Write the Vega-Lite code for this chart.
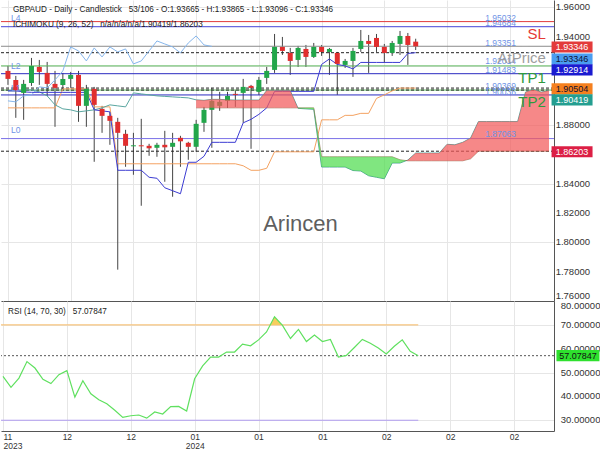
{
  "$schema": "https://vega.github.io/schema/vega-lite/v6.json",
  "padding": 0,
  "spacing": 0,
  "background": "white",
  "config": {
    "view": {"stroke": null},
    "font": "Liberation Sans",
    "axis": {"gridColor": "#e6e6e6", "domainColor": "#555555", "labelColor": "#333333", "labelFont": "Liberation Sans"}
  },
  "datasets": {
    "candles": [
      {"i":0,"o":1.91673,"h":1.92013,"l":1.90721,"c":1.91129},
      {"i":1,"o":1.91061,"h":1.91333,"l":1.88476,"c":1.90313},
      {"i":2,"o":1.90176,"h":1.91061,"l":1.88340,"c":1.90789},
      {"i":3,"o":1.90857,"h":1.92557,"l":1.90653,"c":1.92013},
      {"i":4,"o":1.91945,"h":1.92421,"l":1.90721,"c":1.91605},
      {"i":5,"o":1.91537,"h":1.92285,"l":1.89972,"c":1.90789},
      {"i":6,"o":1.90789,"h":1.91673,"l":1.87864,"c":1.90517},
      {"i":7,"o":1.90721,"h":1.91537,"l":1.90381,"c":1.91129},
      {"i":8,"o":1.91129,"h":1.91605,"l":1.90517,"c":1.91401},
      {"i":9,"o":1.91401,"h":1.91673,"l":1.88204,"c":1.89292},
      {"i":10,"o":1.89292,"h":1.90721,"l":1.87864,"c":1.90449},
      {"i":11,"o":1.90449,"h":1.90585,"l":1.85483,"c":1.89360},
      {"i":12,"o":1.89088,"h":1.89292,"l":1.87455,"c":1.88612},
      {"i":13,"o":1.88612,"h":1.88884,"l":1.86639,"c":1.88272},
      {"i":14,"o":1.88204,"h":1.88476,"l":1.78136,"c":1.87455},
      {"i":15,"o":1.87387,"h":1.87659,"l":1.85142,"c":1.86571},
      {"i":16,"o":1.86537,"h":1.87455,"l":1.84598,"c":1.86605},
      {"i":17,"o":1.86605,"h":1.88408,"l":1.82489,"c":1.86537},
      {"i":18,"o":1.86571,"h":1.86707,"l":1.85891,"c":1.86401},
      {"i":19,"o":1.86435,"h":1.86775,"l":1.85823,"c":1.86639},
      {"i":20,"o":1.86639,"h":1.87591,"l":1.84122,"c":1.86469},
      {"i":21,"o":1.86503,"h":1.87455,"l":1.83102,"c":1.86775},
      {"i":22,"o":1.87115,"h":1.87251,"l":1.85142,"c":1.86877},
      {"i":23,"o":1.86775,"h":1.86843,"l":1.85619,"c":1.86503},
      {"i":24,"o":1.86503,"h":1.88340,"l":1.86163,"c":1.88068},
      {"i":25,"o":1.88136,"h":1.89224,"l":1.87523,"c":1.89020},
      {"i":26,"o":1.89020,"h":1.90517,"l":1.86435,"c":1.89632},
      {"i":27,"o":1.89292,"h":1.90245,"l":1.88952,"c":1.89564},
      {"i":28,"o":1.89632,"h":1.90245,"l":1.89156,"c":1.89972},
      {"i":29,"o":1.90108,"h":1.90381,"l":1.89224,"c":1.90040},
      {"i":30,"o":1.90176,"h":1.91129,"l":1.88136,"c":1.90585},
      {"i":31,"o":1.90653,"h":1.90721,"l":1.86367,"c":1.90517},
      {"i":32,"o":1.90245,"h":1.91265,"l":1.90040,"c":1.91061},
      {"i":33,"o":1.91197,"h":1.91945,"l":1.90789,"c":1.91673},
      {"i":34,"o":1.91741,"h":1.94190,"l":1.91537,"c":1.93306},
      {"i":35,"o":1.93306,"h":1.93986,"l":1.92762,"c":1.93034},
      {"i":36,"o":1.92898,"h":1.93238,"l":1.91401,"c":1.92353},
      {"i":37,"o":1.92421,"h":1.93374,"l":1.91945,"c":1.93238},
      {"i":38,"o":1.93170,"h":1.93442,"l":1.91945,"c":1.92625},
      {"i":39,"o":1.92625,"h":1.93578,"l":1.92557,"c":1.93306},
      {"i":40,"o":1.93306,"h":1.93442,"l":1.92693,"c":1.92966},
      {"i":41,"o":1.92966,"h":1.93238,"l":1.91401,"c":1.93170},
      {"i":42,"o":1.92898,"h":1.92966,"l":1.90040,"c":1.92149},
      {"i":43,"o":1.92081,"h":1.92489,"l":1.91877,"c":1.92353},
      {"i":44,"o":1.92353,"h":1.93238,"l":1.91265,"c":1.93034},
      {"i":45,"o":1.93170,"h":1.94462,"l":1.92966,"c":1.93714},
      {"i":46,"o":1.93714,"h":1.94122,"l":1.91537,"c":1.93510},
      {"i":47,"o":1.93918,"h":1.94190,"l":1.92966,"c":1.93306},
      {"i":48,"o":1.93306,"h":1.93510,"l":1.92217,"c":1.92898},
      {"i":49,"o":1.92898,"h":1.93714,"l":1.92693,"c":1.93578},
      {"i":50,"o":1.93510,"h":1.94394,"l":1.92762,"c":1.94054},
      {"i":51,"o":1.94054,"h":1.94258,"l":1.92081,"c":1.93442},
      {"i":52,"o":1.93665,"h":1.93865,"l":1.93096,"c":1.93346}
    ],
    "ichi": [
      {"i":0,"t":1.90313,"k":1.89156,"ch":1.89632,"a":1.90313,"b":null},
      {"i":1,"t":1.90313,"k":1.89156,"ch":1.89564,"a":1.90313,"b":null},
      {"i":2,"t":1.90245,"k":1.89156,"ch":1.89972,"a":1.90381,"b":null},
      {"i":3,"t":1.90211,"k":1.89156,"ch":1.90040,"a":1.90381,"b":null},
      {"i":4,"t":1.90211,"k":1.89156,"ch":1.90585,"a":1.90245,"b":null},
      {"i":5,"t":1.90211,"k":1.89156,"ch":1.90517,"a":1.89972,"b":null},
      {"i":6,"t":1.90211,"k":1.89156,"ch":1.91061,"a":1.89360,"b":null},
      {"i":7,"t":1.90211,"k":1.90449,"ch":1.91673,"a":1.89088,"b":null},
      {"i":8,"t":1.90211,"k":1.90449,"ch":1.93306,"a":1.89020,"b":null},
      {"i":9,"t":1.90211,"k":1.90449,"ch":1.93034,"a":1.88884,"b":null},
      {"i":10,"t":1.90211,"k":1.90449,"ch":1.92353,"a":1.88952,"b":null},
      {"i":11,"t":1.89020,"k":1.89224,"ch":1.93238,"a":1.89020,"b":null},
      {"i":12,"t":1.88952,"k":1.89224,"ch":1.92625,"a":1.89156,"b":null},
      {"i":13,"t":1.88884,"k":1.89224,"ch":1.93306,"a":1.89360,"b":null},
      {"i":14,"t":1.84904,"k":1.85347,"ch":1.92966,"a":1.89292,"b":null},
      {"i":15,"t":1.84904,"k":1.85347,"ch":1.93170,"a":1.89224,"b":null},
      {"i":16,"t":1.84904,"k":1.85347,"ch":1.92149,"a":1.90176,"b":null},
      {"i":17,"t":1.84904,"k":1.85347,"ch":1.92353,"a":1.90108,"b":null},
      {"i":18,"t":1.84428,"k":1.85347,"ch":1.93034,"a":1.90040,"b":null},
      {"i":19,"t":1.84360,"k":1.85347,"ch":1.93714,"a":1.89972,"b":null},
      {"i":20,"t":1.83714,"k":1.85347,"ch":1.93510,"a":1.89938,"b":null},
      {"i":21,"t":1.83510,"k":1.85347,"ch":1.93306,"a":1.89904,"b":null},
      {"i":22,"t":1.83306,"k":1.85347,"ch":1.92898,"a":1.89870,"b":null},
      {"i":23,"t":1.85449,"k":1.85347,"ch":1.93578,"a":1.89836,"b":null},
      {"i":24,"t":1.85449,"k":1.85347,"ch":1.94054,"a":1.89700,"b":1.89156},
      {"i":25,"t":1.85857,"k":1.85347,"ch":1.93442,"a":1.89666,"b":1.89156},
      {"i":26,"t":1.86809,"k":1.85347,"ch":1.93346,"a":1.89734,"b":1.89156},
      {"i":27,"t":1.86809,"k":1.85347,"ch":null,"a":1.89734,"b":1.89156},
      {"i":28,"t":1.86809,"k":1.85347,"ch":null,"a":1.89700,"b":1.89156},
      {"i":29,"t":1.86809,"k":1.85347,"ch":null,"a":1.89683,"b":1.89156},
      {"i":30,"t":1.88136,"k":1.85211,"ch":null,"a":1.89683,"b":1.89156},
      {"i":31,"t":1.88374,"k":1.84904,"ch":null,"a":1.89683,"b":1.89156},
      {"i":32,"t":1.88714,"k":1.84904,"ch":null,"a":1.89683,"b":1.89156},
      {"i":33,"t":1.89156,"k":1.85040,"ch":null,"a":1.90330,"b":1.89156},
      {"i":34,"t":1.90279,"k":1.86163,"ch":null,"a":1.90330,"b":1.89156},
      {"i":35,"t":1.90279,"k":1.86163,"ch":null,"a":1.90330,"b":1.89156},
      {"i":36,"t":1.90279,"k":1.86163,"ch":null,"a":1.90330,"b":1.89156},
      {"i":37,"t":1.90279,"k":1.86163,"ch":null,"a":1.89122,"b":1.89156},
      {"i":38,"t":1.90279,"k":1.86163,"ch":null,"a":1.89088,"b":1.89156},
      {"i":39,"t":1.90279,"k":1.86163,"ch":null,"a":1.89054,"b":1.89156},
      {"i":40,"t":1.92115,"k":1.88340,"ch":null,"a":1.85126,"b":1.85823},
      {"i":41,"t":1.92489,"k":1.88340,"ch":null,"a":1.85126,"b":1.85823},
      {"i":42,"t":1.92115,"k":1.88340,"ch":null,"a":1.85126,"b":1.85823},
      {"i":43,"t":1.92013,"k":1.88646,"ch":null,"a":1.85126,"b":1.85823},
      {"i":44,"t":1.91809,"k":1.88646,"ch":null,"a":1.84887,"b":1.85823},
      {"i":45,"t":1.92251,"k":1.88782,"ch":null,"a":1.84853,"b":1.85823},
      {"i":46,"t":1.92251,"k":1.88782,"ch":null,"a":1.84530,"b":1.85823},
      {"i":47,"t":1.92251,"k":1.89802,"ch":null,"a":1.84428,"b":1.85823},
      {"i":48,"t":1.92251,"k":1.90040,"ch":null,"a":1.84326,"b":1.85823},
      {"i":49,"t":1.92251,"k":1.90313,"ch":null,"a":1.85398,"b":1.85823},
      {"i":50,"t":1.92251,"k":1.90504,"ch":null,"a":1.85398,"b":1.85619},
      {"i":51,"t":1.92864,"k":1.90504,"ch":null,"a":1.85602,"b":1.85551},
      {"i":52,"t":1.92914,"k":1.90504,"ch":null,"a":1.86078,"b":1.85551},
      {"i":53,"t":null,"k":null,"ch":null,"a":1.86078,"b":1.85551},
      {"i":54,"t":null,"k":null,"ch":null,"a":1.86078,"b":1.85551},
      {"i":55,"t":null,"k":null,"ch":null,"a":1.86078,"b":1.85551},
      {"i":56,"t":null,"k":null,"ch":null,"a":1.86673,"b":1.85551},
      {"i":57,"t":null,"k":null,"ch":null,"a":1.86639,"b":1.85551},
      {"i":58,"t":null,"k":null,"ch":null,"a":1.86809,"b":1.85551},
      {"i":59,"t":null,"k":null,"ch":null,"a":1.87098,"b":1.85687},
      {"i":60,"t":null,"k":null,"ch":null,"a":1.88221,"b":1.86203},
      {"i":61,"t":null,"k":null,"ch":null,"a":1.88221,"b":1.86203},
      {"i":62,"t":null,"k":null,"ch":null,"a":1.88221,"b":1.86203},
      {"i":63,"t":null,"k":null,"ch":null,"a":1.88221,"b":1.86203},
      {"i":64,"t":null,"k":null,"ch":null,"a":1.88221,"b":1.86203},
      {"i":65,"t":null,"k":null,"ch":null,"a":1.88221,"b":1.86203},
      {"i":66,"t":null,"k":null,"ch":null,"a":1.90228,"b":1.86203},
      {"i":67,"t":null,"k":null,"ch":null,"a":1.90415,"b":1.86203},
      {"i":68,"t":null,"k":null,"ch":null,"a":1.90228,"b":1.86203},
      {"i":69,"t":null,"k":null,"ch":null,"a":1.90330,"b":1.86203}
    ],
    "cloud": [
      {"seg":"r1","i":24,"a":1.89700,"b":1.89156},
      {"seg":"r1","i":25,"a":1.89666,"b":1.89156},
      {"seg":"r1","i":26,"a":1.89734,"b":1.89156},
      {"seg":"r1","i":27,"a":1.89734,"b":1.89156},
      {"seg":"r1","i":28,"a":1.89700,"b":1.89156},
      {"seg":"r1","i":29,"a":1.89683,"b":1.89156},
      {"seg":"r1","i":30,"a":1.89683,"b":1.89156},
      {"seg":"r1","i":31,"a":1.89683,"b":1.89156},
      {"seg":"r1","i":32,"a":1.89683,"b":1.89156},
      {"seg":"r1","i":33,"a":1.90330,"b":1.89156},
      {"seg":"r1","i":34,"a":1.90330,"b":1.89156},
      {"seg":"r1","i":35,"a":1.90330,"b":1.89156},
      {"seg":"r1","i":36,"a":1.90330,"b":1.89156},
      {"seg":"r1","i":36.97,"a":1.89156,"b":1.89156},
      {"seg":"g1","i":36.97,"a":1.89156,"b":1.89156},
      {"seg":"g1","i":37,"a":1.89122,"b":1.89156},
      {"seg":"g1","i":38,"a":1.89088,"b":1.89156},
      {"seg":"g1","i":39,"a":1.89054,"b":1.89156},
      {"seg":"g1","i":40,"a":1.85126,"b":1.85823},
      {"seg":"g1","i":41,"a":1.85126,"b":1.85823},
      {"seg":"g1","i":42,"a":1.85126,"b":1.85823},
      {"seg":"g1","i":43,"a":1.85126,"b":1.85823},
      {"seg":"g1","i":44,"a":1.84887,"b":1.85823},
      {"seg":"g1","i":45,"a":1.84853,"b":1.85823},
      {"seg":"g1","i":46,"a":1.84530,"b":1.85823},
      {"seg":"g1","i":47,"a":1.84428,"b":1.85823},
      {"seg":"g1","i":48,"a":1.84326,"b":1.85823},
      {"seg":"g1","i":49,"a":1.85398,"b":1.85823},
      {"seg":"g1","i":50,"a":1.85398,"b":1.85619},
      {"seg":"g1","i":50.81,"a":1.85564,"b":1.85564},
      {"seg":"r2","i":50.81,"a":1.85564,"b":1.85564},
      {"seg":"r2","i":51,"a":1.85602,"b":1.85551},
      {"seg":"r2","i":52,"a":1.86078,"b":1.85551},
      {"seg":"r2","i":53,"a":1.86078,"b":1.85551},
      {"seg":"r2","i":54,"a":1.86078,"b":1.85551},
      {"seg":"r2","i":55,"a":1.86078,"b":1.85551},
      {"seg":"r2","i":56,"a":1.86673,"b":1.85551},
      {"seg":"r2","i":57,"a":1.86639,"b":1.85551},
      {"seg":"r2","i":58,"a":1.86809,"b":1.85551},
      {"seg":"r2","i":59,"a":1.87098,"b":1.85687},
      {"seg":"r2","i":60,"a":1.88221,"b":1.86203},
      {"seg":"r2","i":61,"a":1.88221,"b":1.86203},
      {"seg":"r2","i":62,"a":1.88221,"b":1.86203},
      {"seg":"r2","i":63,"a":1.88221,"b":1.86203},
      {"seg":"r2","i":64,"a":1.88221,"b":1.86203},
      {"seg":"r2","i":65,"a":1.88221,"b":1.86203},
      {"seg":"r2","i":66,"a":1.90228,"b":1.86203},
      {"seg":"r2","i":67,"a":1.90415,"b":1.86203},
      {"seg":"r2","i":68,"a":1.90228,"b":1.86203},
      {"seg":"r2","i":69,"a":1.90330,"b":1.86203}
    ],
    "levels": [
      {"name":"SL","p":1.95032},
      {"name":"L4","p":1.94684},
      {"name":"AtPrice","p":1.93351},
      {"name":"TK","p":1.92914},
      {"name":"TP1","p":1.92014},
      {"name":"L2","p":1.91483},
      {"name":"TP2","p":1.90369},
      {"name":"KJ","p":1.90504},
      {"name":"SA","p":1.90369},
      {"name":"L1","p":1.90036},
      {"name":"L0","p":1.87063},
      {"name":"SB","p":1.86203}
    ],
    "levelText": [
      {"text":"1.95032","p":1.95279},
      {"text":"1.94684","p":1.94938},
      {"text":"1.93351","p":1.93578},
      {"text":"1.92014","p":1.92353},
      {"text":"1.91483","p":1.91741},
      {"text":"1.90369","p":1.90653},
      {"text":"1.90036","p":1.90245},
      {"text":"1.87063","p":1.87387}
    ],
    "lText": [
      {"text":"L4","p":1.95279},
      {"text":"L2","p":1.92013},
      {"text":"L1","p":1.90517},
      {"text":"L0","p":1.87659}
    ],
    "bigText": [
      {"name":"SL","p":1.94190},
      {"name":"AtPrice","p":1.92557},
      {"name":"TP1","p":1.91197},
      {"name":"TP2","p":1.89564}
    ],
    "header": [
      {"text":"GBPAUD - Daily - Candlestick\u00a0\u00a0\u00a053/106 - O:1.93665 - H:1.93865 - L:1.93096 - C:1.93346","p":1.95823},
      {"text":"ICHIMOKU (9, 26, 52)\u00a0\u00a0\u00a0n/a/n/a/n/a/1.90419/1.86203","p":1.94802}
    ],
    "brand": [{"text":"Arincen","p":1.81265}],
    "tags": [
      {"name":"close","label":"1.93346","p":1.93306},
      {"name":"atprice","label":"1.93346","p":1.92489},
      {"name":"tenkan","label":"1.92914","p":1.91741},
      {"name":"kijun","label":"1.90504","p":1.90449},
      {"name":"spanA","label":"1.90419","p":1.89700},
      {"name":"spanB","label":"1.86203","p":1.86163}
    ],
    "priceTicks": [{"v":1.78},{"v":1.80},{"v":1.82},{"v":1.84},{"v":1.88},{"v":1.94},{"v":1.96}],
    "priceTickEdge": [{"v":1.76}],
    "rsiTicks": [{"v":30},{"v":40},{"v":50},{"v":60},{"v":70}],
    "rsiTickEdge": [{"v":80}],
    "rsi": [
      {"i":0,"r":48.4},{"i":1,"r":43.8},{"i":2,"r":47.7},{"i":3,"r":54.6},{"i":4,"r":51.9},
      {"i":5,"r":47.2},{"i":6,"r":45.4},{"i":7,"r":49.1},{"i":8,"r":50.8},{"i":9,"r":39.7},
      {"i":10,"r":46.6},{"i":11,"r":41.1},{"i":12,"r":38.6},{"i":13,"r":36.9},{"i":14,"r":34.2},
      {"i":15,"r":31.2},{"i":16,"r":31.9},{"i":17,"r":32.2},{"i":18,"r":30.9},{"i":19,"r":33.5},
      {"i":20,"r":32.6},{"i":21,"r":35.7},{"i":22,"r":35.8},{"i":23,"r":33.9},{"i":24,"r":47.4},
      {"i":25,"r":52.8},{"i":26,"r":56.5},{"i":27,"r":56.5},{"i":28,"r":58.6},{"i":29,"r":58.6},
      {"i":30,"r":61.9},{"i":31,"r":61.2},{"i":32,"r":63.7},{"i":33,"r":67.0},{"i":34,"r":73.4},
      {"i":35,"r":69.8},{"i":36,"r":64.3},{"i":37,"r":68.1},{"i":38,"r":63.0},{"i":39,"r":65.7},
      {"i":40,"r":63.0},{"i":41,"r":63.9},{"i":42,"r":56.5},{"i":43,"r":57.2},{"i":44,"r":60.5},
      {"i":45,"r":63.9},{"i":46,"r":62.3},{"i":47,"r":60.3},{"i":48,"r":57.8},{"i":49,"r":61.0},
      {"i":50,"r":63.7},{"i":51,"r":58.9},{"i":52,"r":57.07847}
    ],
    "obFill": [{"i":33.47,"r":70},{"i":34,"r":73.4},{"i":34.94,"r":70}],
    "rsiLevels": [{"name":"ob","v":70},{"name":"os","v":30}],
    "rsiNow": [{"label":"57.07847","r":57.07847}],
    "rsiHeader": [{"text":"RSI (14, 70, 30)\u00a0\u00a0\u00a057.07847","r":75.2}]
  },
  "vconcat": [
    {
      "width": 553,
      "height": 301,
      "resolve": {"scale": {"color": "independent", "strokeDash": "independent"}},
      "layer": [
        {
          "data": {"name": "candles"},
          "mark": {"type": "rule", "color": "#444444", "strokeWidth": 1},
          "encoding": {
            "x": {"field": "i", "type": "quantitative", "title": null, "scale": {"domain": [-0.25, 69], "nice": false, "zero": false},
                  "axis": {"orient": "bottom", "values": [0,8,16,24,32,40,48,56,64], "labels": false, "ticks": false, "domain": true, "grid": true, "title": null}},
            "y": {"field": "l", "type": "quantitative", "title": null, "scale": {"domain": [1.76, 1.96503], "nice": false, "zero": false},
                  "axis": {"orient": "right", "values": [1.76,1.78,1.8,1.82,1.84,1.86,1.88,1.9,1.92,1.94,1.96], "labels": false, "title": null, "ticks": false, "grid": true, "domain": true}},
            "y2": {"field": "h", "title": null}
          }
        },
        {
          "data": {"name": "levels"},
          "mark": {"type": "rule", "strokeWidth": 1},
          "encoding": {
            "y": {"field": "p", "type": "quantitative", "title": null, "scale": {"domain": [1.76, 1.96503], "nice": false, "zero": false}},
            "color": {"field": "name", "type": "nominal", "legend": null,
              "scale": {"domain": ["SL","L4","AtPrice","TK","TP1","L2","TP2","KJ","SA","L1","L0","SB"],
                        "range": ["#e23b3b","#4545d8","#8c8c8c","#222222","#5cb85c","#2a2ac0","#5cb85c","#222222","#222222","#2a2ac0","#7a70e8","#222222"]}},
            "strokeDash": {"field": "name", "type": "nominal", "legend": null,
              "scale": {"domain": ["SL","L4","AtPrice","TK","TP1","L2","TP2","KJ","SA","L1","L0","SB"],
                        "range": [[1,0],[1,0],[1,0],[3,2],[1,0],[1,0],[1,0],[3,2],[3,2],[1,0],[1,0],[3,2]]}}
          }
        },
        {
          "data": {"name": "ichi"},
          "mark": {"type": "line", "color": "#86b6ec", "strokeWidth": 1},
          "encoding": {
            "x": {"field": "i", "type": "quantitative", "title": null, "scale": {"domain": [-0.25, 69], "nice": false, "zero": false}},
            "y": {"field": "ch", "type": "quantitative", "title": null, "scale": {"domain": [1.76, 1.96503], "nice": false, "zero": false}}
          }
        },
        {
          "data": {"name": "ichi"},
          "mark": {"type": "line", "color": "#f4a261", "strokeWidth": 1},
          "encoding": {
            "x": {"field": "i", "type": "quantitative", "title": null, "scale": {"domain": [-0.25, 69], "nice": false, "zero": false}},
            "y": {"field": "k", "type": "quantitative", "title": null, "scale": {"domain": [1.76, 1.96503], "nice": false, "zero": false}}
          }
        },
        {
          "data": {"name": "ichi"},
          "mark": {"type": "line", "color": "#5aa6a0", "strokeWidth": 1},
          "encoding": {
            "x": {"field": "i", "type": "quantitative", "title": null, "scale": {"domain": [-0.25, 69], "nice": false, "zero": false}},
            "y": {"field": "a", "type": "quantitative", "title": null, "scale": {"domain": [1.76, 1.96503], "nice": false, "zero": false}}
          }
        },
        {
          "data": {"name": "ichi"},
          "mark": {"type": "line", "color": "#8a5a3a", "strokeWidth": 1, "opacity": 0.6},
          "encoding": {
            "x": {"field": "i", "type": "quantitative", "title": null, "scale": {"domain": [-0.25, 69], "nice": false, "zero": false}},
            "y": {"field": "b", "type": "quantitative", "title": null, "scale": {"domain": [1.76, 1.96503], "nice": false, "zero": false}}
          }
        },
        {
          "data": {"name": "ichi"},
          "mark": {"type": "line", "color": "#3c3cd2", "strokeWidth": 1},
          "encoding": {
            "x": {"field": "i", "type": "quantitative", "title": null, "scale": {"domain": [-0.25, 69], "nice": false, "zero": false}},
            "y": {"field": "t", "type": "quantitative", "title": null, "scale": {"domain": [1.76, 1.96503], "nice": false, "zero": false}}
          }
        },
        {
          "data": {"name": "candles"},
          "mark": {"type": "bar", "orient": "vertical", "size": 5},
          "encoding": {
            "x": {"field": "i", "type": "quantitative", "title": null, "scale": {"domain": [-0.25, 69], "nice": false, "zero": false}},
            "y": {"field": "o", "type": "quantitative", "title": null, "scale": {"domain": [1.76, 1.96503], "nice": false, "zero": false}},
            "y2": {"field": "c", "title": null},
            "color": {"condition": {"test": "datum.c >= datum.o", "value": "#22a64a"}, "value": "#e12e2e"}
          }
        },
        {
          "data": {"name": "cloud"},
          "mark": {"type": "area", "opacity": 0.72},
          "encoding": {
            "x": {"field": "i", "type": "quantitative", "title": null, "scale": {"domain": [-0.25, 69], "nice": false, "zero": false}},
            "y": {"field": "a", "type": "quantitative", "title": null, "scale": {"domain": [1.76, 1.96503], "nice": false, "zero": false}},
            "y2": {"field": "b", "title": null},
            "color": {"field": "seg", "type": "nominal", "legend": null, "scale": {"domain": ["r1","g1","r2"], "range": ["#f25a5a","#4fdc4f","#f25a5a"]}}
          }
        },
        {
          "data": {"name": "priceTicks"},
          "mark": {"type": "text", "align": "left", "baseline": "middle", "fontSize": 9.5, "color": "#333333"},
          "encoding": {
            "x": {"datum": 69.85, "type": "quantitative", "title": null, "scale": {"domain": [-0.25, 69], "nice": false, "zero": false}},
            "y": {"field": "v", "type": "quantitative", "title": null, "scale": {"domain": [1.76, 1.96503], "nice": false, "zero": false}},
            "text": {"field": "v", "type": "quantitative", "format": ".5f"}
          }
        },
        {
          "data": {"name": "priceTickEdge"},
          "mark": {"type": "text", "align": "left", "baseline": "bottom", "fontSize": 9.5, "color": "#333333"},
          "encoding": {
            "x": {"datum": 69.85, "type": "quantitative", "title": null, "scale": {"domain": [-0.25, 69], "nice": false, "zero": false}},
            "y": {"field": "v", "type": "quantitative", "title": null, "scale": {"domain": [1.76, 1.96503], "nice": false, "zero": false}},
            "text": {"field": "v", "type": "quantitative", "format": ".5f"}
          }
        },
        {
          "data": {"name": "header"},
          "mark": {"type": "text", "align": "left", "baseline": "middle", "fontSize": 8.2, "color": "#222222"},
          "encoding": {
            "x": {"datum": 0.63, "type": "quantitative", "title": null, "scale": {"domain": [-0.25, 69], "nice": false, "zero": false}},
            "y": {"field": "p", "type": "quantitative", "title": null, "scale": {"domain": [1.76, 1.96503], "nice": false, "zero": false}},
            "text": {"field": "text"}
          }
        },
        {
          "data": {"name": "levelText"},
          "mark": {"type": "text", "align": "left", "baseline": "middle", "fontSize": 8.5, "color": "#6f93e6"},
          "encoding": {
            "x": {"datum": 60.86, "type": "quantitative", "title": null, "scale": {"domain": [-0.25, 69], "nice": false, "zero": false}},
            "y": {"field": "p", "type": "quantitative", "title": null, "scale": {"domain": [1.76, 1.96503], "nice": false, "zero": false}},
            "text": {"field": "text"}
          }
        },
        {
          "data": {"name": "lText"},
          "mark": {"type": "text", "align": "left", "baseline": "middle", "fontSize": 8.5, "color": "#6f93e6"},
          "encoding": {
            "x": {"datum": 0.4, "type": "quantitative", "title": null, "scale": {"domain": [-0.25, 69], "nice": false, "zero": false}},
            "y": {"field": "p", "type": "quantitative", "title": null, "scale": {"domain": [1.76, 1.96503], "nice": false, "zero": false}},
            "text": {"field": "text"}
          }
        },
        {
          "data": {"name": "bigText"},
          "mark": {"type": "text", "align": "right", "baseline": "middle", "fontSize": 15},
          "encoding": {
            "x": {"datum": 68.6, "type": "quantitative", "title": null, "scale": {"domain": [-0.25, 69], "nice": false, "zero": false}},
            "y": {"field": "p", "type": "quantitative", "title": null, "scale": {"domain": [1.76, 1.96503], "nice": false, "zero": false}},
            "text": {"field": "name"},
            "color": {"field": "name", "type": "nominal", "legend": null, "scale": {"domain": ["SL","AtPrice","TP1","TP2"], "range": ["#e53935","#9e9e9e","#2e9b3e","#2e9b3e"]}}
          }
        },
        {
          "data": {"name": "brand"},
          "mark": {"type": "text", "align": "center", "baseline": "middle", "fontSize": 22, "color": "#5f5f5f"},
          "encoding": {
            "x": {"datum": 37.3, "type": "quantitative", "title": null, "scale": {"domain": [-0.25, 69], "nice": false, "zero": false}},
            "y": {"field": "p", "type": "quantitative", "title": null, "scale": {"domain": [1.76, 1.96503], "nice": false, "zero": false}},
            "text": {"field": "text"}
          }
        },
        {
          "data": {"name": "tags"},
          "mark": {"type": "point", "filled": true, "opacity": 1, "size": 1681, "shape": "M-1,-0.27L1,-0.27L1,0.27L-1,0.27Z"},
          "encoding": {
            "x": {"datum": 71.94, "type": "quantitative", "title": null, "scale": {"domain": [-0.25, 69], "nice": false, "zero": false}},
            "y": {"field": "p", "type": "quantitative", "title": null, "scale": {"domain": [1.76, 1.96503], "nice": false, "zero": false}},
            "color": {"field": "name", "type": "nominal", "legend": null, "scale": {"domain": ["close","atprice","tenkan","kijun","spanA","spanB"], "range": ["#e33b3b","#4a9df0","#1a1ad0","#f5801f","#249e90","#dc1f45"]}}
          }
        },
        {
          "data": {"name": "tags"},
          "mark": {"type": "text", "align": "center", "baseline": "middle", "fontSize": 9},
          "encoding": {
            "x": {"datum": 71.94, "type": "quantitative", "title": null, "scale": {"domain": [-0.25, 69], "nice": false, "zero": false}},
            "y": {"field": "p", "type": "quantitative", "title": null, "scale": {"domain": [1.76, 1.96503], "nice": false, "zero": false}},
            "text": {"field": "label"},
            "color": {"condition": {"test": "datum.name == 'atprice' || datum.name == 'kijun'", "value": "#111133"}, "value": "#ffffff"}
          }
        }
      ]
    },
    {
      "width": 553,
      "height": 130,
      "resolve": {"scale": {"color": "independent"}},
      "layer": [
        {
          "data": {"name": "rsiLevels"},
          "mark": {"type": "rule", "strokeWidth": 1.2},
          "encoding": {
            "x": {"datum": -0.25, "type": "quantitative", "title": null, "scale": {"domain": [-0.25, 69], "nice": false, "zero": false},
                  "axis": {"orient": "bottom", "values": [0,8,16,24,32,40,48,56,64], "title": null, "ticks": false, "grid": true, "domain": true, "labelFontSize": 8.5, "labelPadding": 1, "labelLineHeight": 9, "labelFlush": 4, "labelOverlap": false,
                           "labelExpr": "datum.value == 0 ? ['11','2023'] : datum.value == 24 ? ['01','2024'] : datum.value < 24 ? '12' : datum.value < 48 ? '01' : '02'"}},
            "x2": {"datum": 52},
            "y": {"field": "v", "type": "quantitative", "title": null, "scale": {"domain": [25.5, 80], "nice": false, "zero": false},
                  "axis": {"orient": "right", "values": [30,40,50,60,70,80], "labels": false, "title": null, "ticks": false, "grid": true, "domain": true}},
            "color": {"field": "name", "type": "nominal", "legend": null, "scale": {"domain": ["ob","os"], "range": ["#f7c57e","#b09cf0"]}}
          }
        },
        {
          "data": {"name": "rsiNow"},
          "mark": {"type": "rule", "color": "#555555", "strokeDash": [2,2], "strokeWidth": 1},
          "encoding": {
            "y": {"field": "r", "type": "quantitative", "title": null, "scale": {"domain": [25.5, 80], "nice": false, "zero": false}}
          }
        },
        {
          "data": {"name": "obFill"},
          "mark": {"type": "area", "color": "#f5c542", "opacity": 0.85},
          "encoding": {
            "x": {"field": "i", "type": "quantitative", "title": null, "scale": {"domain": [-0.25, 69], "nice": false, "zero": false}},
            "y": {"field": "r", "type": "quantitative", "title": null, "scale": {"domain": [25.5, 80], "nice": false, "zero": false}},
            "y2": {"datum": 70}
          }
        },
        {
          "data": {"name": "rsi"},
          "mark": {"type": "line", "color": "#5fe05f", "strokeWidth": 1.2},
          "encoding": {
            "x": {"field": "i", "type": "quantitative", "title": null, "scale": {"domain": [-0.25, 69], "nice": false, "zero": false}},
            "y": {"field": "r", "type": "quantitative", "title": null, "scale": {"domain": [25.5, 80], "nice": false, "zero": false}}
          }
        },
        {
          "data": {"name": "rsiTicks"},
          "mark": {"type": "text", "align": "left", "baseline": "middle", "fontSize": 9.5, "color": "#333333"},
          "encoding": {
            "x": {"datum": 69.85, "type": "quantitative", "title": null, "scale": {"domain": [-0.25, 69], "nice": false, "zero": false}},
            "y": {"field": "v", "type": "quantitative", "title": null, "scale": {"domain": [25.5, 80], "nice": false, "zero": false}},
            "text": {"field": "v", "type": "quantitative", "format": ".5f"}
          }
        },
        {
          "data": {"name": "rsiTickEdge"},
          "mark": {"type": "text", "align": "left", "baseline": "top", "fontSize": 9.5, "color": "#333333"},
          "encoding": {
            "x": {"datum": 69.85, "type": "quantitative", "title": null, "scale": {"domain": [-0.25, 69], "nice": false, "zero": false}},
            "y": {"field": "v", "type": "quantitative", "title": null, "scale": {"domain": [25.5, 80], "nice": false, "zero": false}},
            "text": {"field": "v", "type": "quantitative", "format": ".5f"}
          }
        },
        {
          "data": {"name": "rsiHeader"},
          "mark": {"type": "text", "align": "left", "baseline": "middle", "fontSize": 8.2, "color": "#222222"},
          "encoding": {
            "x": {"datum": 0.63, "type": "quantitative", "title": null, "scale": {"domain": [-0.25, 69], "nice": false, "zero": false}},
            "y": {"field": "r", "type": "quantitative", "title": null, "scale": {"domain": [25.5, 80], "nice": false, "zero": false}},
            "text": {"field": "text"}
          }
        },
        {
          "data": {"name": "rsiNow"},
          "mark": {"type": "point", "filled": true, "opacity": 1, "size": 1849, "shape": "M-1,-0.26L1,-0.26L1,0.26L-1,0.26Z", "color": "#2ee02e"},
          "encoding": {
            "x": {"datum": 72.0, "type": "quantitative", "title": null, "scale": {"domain": [-0.25, 69], "nice": false, "zero": false}},
            "y": {"field": "r", "type": "quantitative", "title": null, "scale": {"domain": [25.5, 80], "nice": false, "zero": false}}
          }
        },
        {
          "data": {"name": "rsiNow"},
          "mark": {"type": "text", "align": "center", "baseline": "middle", "fontSize": 9, "color": "#111111"},
          "encoding": {
            "x": {"datum": 72.0, "type": "quantitative", "title": null, "scale": {"domain": [-0.25, 69], "nice": false, "zero": false}},
            "y": {"field": "r", "type": "quantitative", "title": null, "scale": {"domain": [25.5, 80], "nice": false, "zero": false}},
            "text": {"field": "label"}
          }
        }
      ]
    }
  ]
}
